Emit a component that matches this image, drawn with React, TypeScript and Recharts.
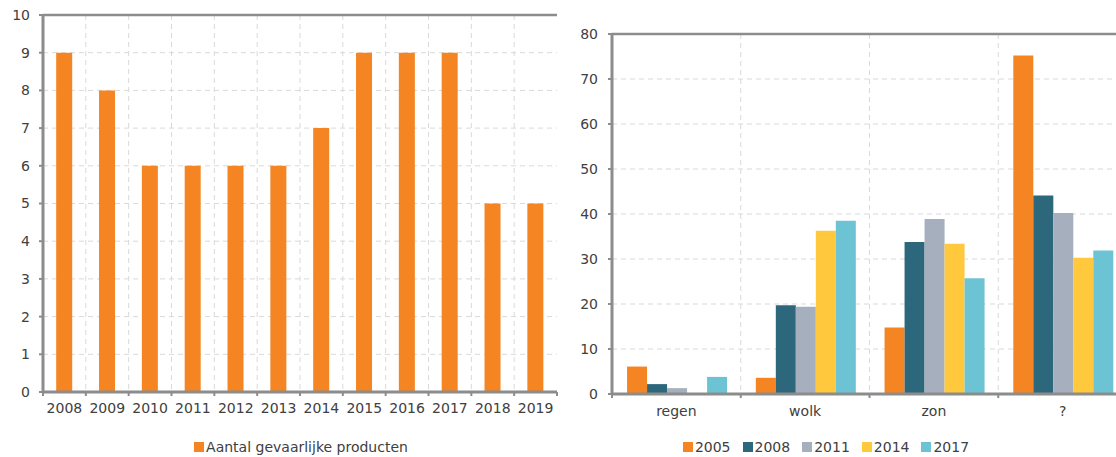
import React from "react";
import {
  BarChart,
  Bar,
  XAxis,
  YAxis,
  CartesianGrid,
  ReferenceLine,
} from "recharts";

const FONT = "'DejaVu Sans', sans-serif";
const TEXT = "#404040";
const AXIS = "#8c8c8c";
const GRID = "#d9d9d9";
const ORANGE = "#f48522";

// left chart: gevaarlijke producten per jaar
const years = ["2008", "2009", "2010", "2011", "2012", "2013", "2014", "2015", "2016", "2017", "2018", "2019"];
const dangerousCounts = [9, 8, 6, 6, 6, 6, 7, 9, 9, 9, 5, 5];
const countTicks = [0, 1, 2, 3, 4, 5, 6, 7, 8, 9, 10];
const countLabel = "Aantal gevaarlijke producten";

// right chart: weer per meetjaar
const weatherCategories = ["regen", "wolk", "zon", "?"];
const surveyYears = ["2005", "2008", "2011", "2014", "2017"];
const values2005 = [6.1, 3.6, 14.8, 75.2];
const values2008 = [2.2, 19.7, 33.8, 44.1];
const values2011 = [1.3, 19.4, 38.9, 40.2];
const values2014 = [null, 36.3, 33.4, 30.3];
const values2017 = [3.8, 38.5, 25.7, 31.9];
const surveyColors = ["#f48522", "#2d677c", "#a5afbd", "#ffc83d", "#6cc3d3"];
const percentTicks = [0, 10, 20, 30, 40, 50, 60, 70, 80];

const leftData = years.map((year, i) => ({ year, count: dangerousCounts[i] }));
const surveySeries = [values2005, values2008, values2011, values2014, values2017];
const rightData = weatherCategories.map((cat, i) => {
  const row: Record<string, string | number | null> = { cat };
  surveyYears.forEach((y, s) => {
    row[y] = surveySeries[s][i];
  });
  return row;
});

const tickStyle = { fontSize: 14, fill: TEXT, fontFamily: FONT };

// category label with tick marks on the band edges instead of the centre
function CategoryTick(props: any) {
  const { x, y, payload, index, visibleTicksCount, width } = props;
  const half = payload?.offset ?? width / visibleTicksCount / 2;
  const top = y - props.gap;
  const edges = [x - half];
  if (index === visibleTicksCount - 1) edges.push(x + half);
  return (
    <g>
      {edges.map((ex) => (
        <line key={ex} x1={ex} x2={ex} y1={top} y2={top + 4} stroke={AXIS} strokeWidth={2} />
      ))}
      <text x={x} y={y} dy="0.71em" textAnchor="middle" fill={TEXT} fontSize={14} fontFamily={FONT}>
        {payload.value}
      </text>
    </g>
  );
}

const bandEdges = (n: number) => ({ offset }: any) => {
  const out: number[] = [];
  for (let i = 1; i < n; i++) out.push(offset.left + (i * offset.width) / n);
  return out;
};

function LegendRow({ items }: { items: { label: string; color: string }[] }) {
  return (
    <div style={{ display: "flex", justifyContent: "center", alignItems: "center", gap: 12 }}>
      {items.map((it) => (
        <div key={it.label} style={{ display: "flex", alignItems: "center" }}>
          <span style={{ width: 10, height: 10, background: it.color, marginRight: 2, display: "inline-block" }} />
          <span style={{ fontSize: 14, color: TEXT, fontFamily: FONT, lineHeight: "16px" }}>{it.label}</span>
        </div>
      ))}
    </div>
  );
}

export default function App() {
  return (
    <div
      style={{
        position: "absolute",
        left: 0,
        top: 0,
        width: 1116,
        height: 457,
        overflow: "hidden",
        background: "#fff",
        fontFamily: FONT,
      }}
    >
      <div style={{ position: "absolute", left: 0, top: 0 }}>
        <BarChart
          width={570}
          height={457}
          data={leftData}
          margin={{ top: 15, right: 13, left: 10, bottom: 35 }}
          barCategoryGap="30.8%"
        >
          <CartesianGrid
            stroke={GRID}
            strokeDasharray="5 4"
            verticalCoordinatesGenerator={bandEdges(years.length)}
          />
          <XAxis
            dataKey="year"
            height={30}
            interval={0}
            axisLine={{ stroke: AXIS, strokeWidth: 3 }}
            tickLine={false}
            tickSize={0}
            tickMargin={11}
            tick={<CategoryTick gap={11} />}
          />
          <YAxis
            width={33}
            domain={[0, 10]}
            ticks={countTicks}
            interval={0}
            axisLine={{ stroke: AXIS, strokeWidth: 3 }}
            tickLine={{ stroke: AXIS, strokeWidth: 2 }}
            tickSize={4}
            tickMargin={9}
            tick={tickStyle}
          />
          <Bar dataKey="count" fill={ORANGE} isAnimationActive={false} />
          <ReferenceLine y={10} stroke={AXIS} strokeWidth={2.5} />
          <ReferenceLine x={years[years.length - 1]} position="end" stroke={AXIS} strokeWidth={2.5} />
        </BarChart>
      </div>
      <div style={{ position: "absolute", left: 44, width: 514, top: 439 }}>
        <LegendRow items={[{ label: countLabel, color: ORANGE }]} />
      </div>

      <div style={{ position: "absolute", left: 560, top: 0 }}>
        <BarChart
          width={580}
          height={457}
          data={rightData}
          margin={{ top: 34, right: 13, left: 12, bottom: 33 }}
          barCategoryGap="11.7%"
          barGap={0}
        >
          <CartesianGrid
            stroke={GRID}
            strokeDasharray="5 4"
            verticalCoordinatesGenerator={bandEdges(weatherCategories.length)}
          />
          <XAxis
            dataKey="cat"
            height={30}
            interval={0}
            axisLine={{ stroke: AXIS, strokeWidth: 3 }}
            tickLine={false}
            tickSize={0}
            tickMargin={12}
            tick={<CategoryTick gap={12} />}
          />
          <YAxis
            width={40}
            domain={[0, 80]}
            ticks={percentTicks}
            interval={0}
            axisLine={{ stroke: AXIS, strokeWidth: 3 }}
            tickLine={{ stroke: AXIS, strokeWidth: 2 }}
            tickSize={4}
            tickMargin={10}
            tick={tickStyle}
          />
          {surveyYears.map((y, i) => (
            <Bar key={y} dataKey={y} fill={surveyColors[i]} isAnimationActive={false} />
          ))}
          <ReferenceLine y={80} stroke={AXIS} strokeWidth={2.5} />
          <ReferenceLine
            x={weatherCategories[weatherCategories.length - 1]}
            position="end"
            stroke={AXIS}
            strokeWidth={2.5}
          />
        </BarChart>
      </div>
      <div style={{ position: "absolute", left: 560, width: 532, top: 439 }}>
        <LegendRow items={surveyYears.map((y, i) => ({ label: y, color: surveyColors[i] }))} />
      </div>
    </div>
  );
}
